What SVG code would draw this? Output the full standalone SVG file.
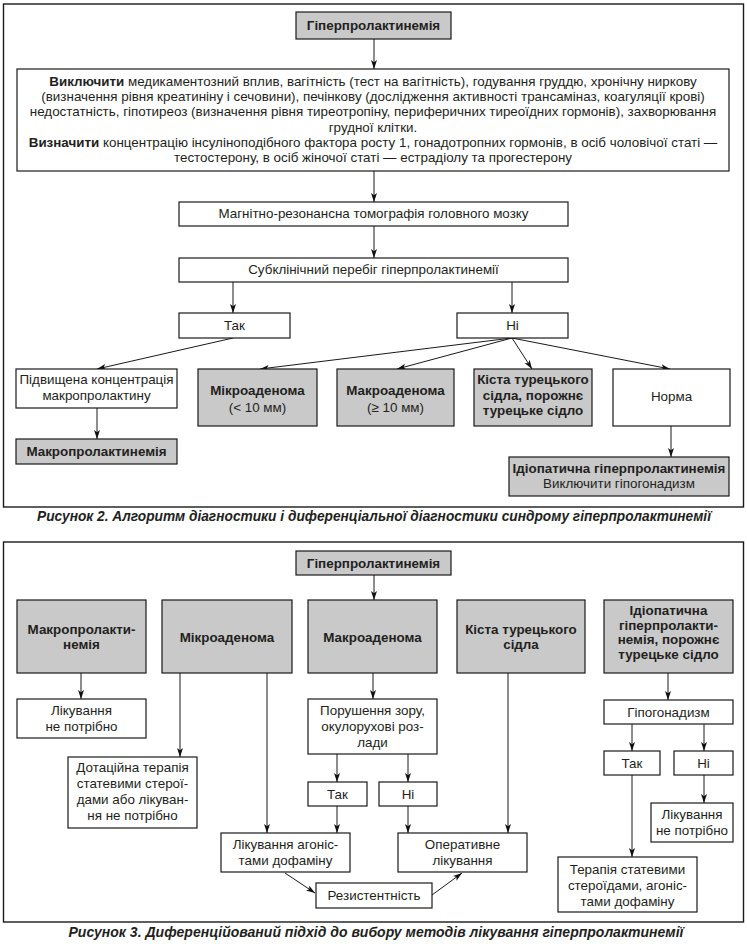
<svg xmlns="http://www.w3.org/2000/svg" width="747" height="944" viewBox="0 0 747 944">
<defs>
<marker id="ah" markerUnits="userSpaceOnUse" markerWidth="10" markerHeight="7" refX="9" refY="3" orient="auto"><path d="M0,0 L9,3 L0,6 L2.2,3 Z" fill="#111"/></marker>
</defs>
<style>
.frame{fill:none;stroke:#1a1a1a;stroke-width:1.4}
.box{fill:#fff;stroke:#1a1a1a;stroke-width:1.2}
.g{fill:#c9c9c9;stroke:#1a1a1a;stroke-width:1.2}
text{font-family:"Liberation Sans",Arial,sans-serif;font-size:13.4px;fill:#231f20;text-anchor:middle}
.b{font-weight:bold}
.cap{font-weight:bold;font-style:italic;font-size:14px}
.c line{stroke:#1a1a1a;stroke-width:1;fill:none;marker-end:url(#ah)}
</style>
<rect class="frame" x="3.5" y="4" width="740" height="503"/>
<rect class="frame" x="3.5" y="542" width="740" height="380"/>

<g id="connectors1" class="c">
<line x1="374" y1="39" x2="374" y2="69"/>
<line x1="374" y1="171" x2="374" y2="202"/>
<line x1="374" y1="226" x2="374" y2="258"/>
<line x1="233" y1="282" x2="233" y2="313"/>
<line x1="512" y1="282" x2="512" y2="313"/>
<line x1="233" y1="338" x2="97" y2="369"/>
<line x1="512" y1="338" x2="260" y2="369"/>
<line x1="512" y1="338" x2="397" y2="369"/>
<line x1="512" y1="338" x2="532" y2="369"/>
<line x1="512" y1="338" x2="670" y2="369"/>
<line x1="97" y1="408" x2="97" y2="439"/>
<line x1="671" y1="426" x2="671" y2="457"/>
</g>

<g id="f1-hyper"><rect class="g" x="296" y="12" width="155" height="27"/><text class="b" x="373.5" y="30">Гіперпролактинемія</text></g>
<g id="f1-exclude"><rect class="box" x="17" y="69" width="712" height="102"/>
<text x="373" y="86"><tspan class="b">Виключити</tspan> медикаментозний вплив, вагітність (тест на вагітність), годування груддю, хронічну ниркову</text>
<text x="373" y="101.2">(визначення рівня креатиніну і сечовини), печінкову (дослідження активності трансаміназ, коагуляції крові)</text>
<text x="373" y="116.4">недостатність, гіпотиреоз (визначення рівня тиреотропіну, периферичних тиреоїдних гормонів), захворювання</text>
<text x="373" y="131.6">грудної клітки.</text>
<text x="373" y="146.8"><tspan class="b">Визначити</tspan> концентрацію інсуліноподібного фактора росту 1, гонадотропних гормонів, в осіб чоловічої статі —</text>
<text x="373" y="162">тестостерону, в осіб жіночої статі — естрадіолу та прогестерону</text>
</g>
<g id="f1-mri"><rect class="box" x="179" y="202" width="389" height="24"/><text x="373.5" y="218">Магнітно-резонансна томографія головного мозку</text></g>
<g id="f1-subclin"><rect class="box" x="179" y="258" width="389" height="24"/><text x="373.5" y="274">Субклінічний перебіг гіперпролактинемії</text></g>
<g id="f1-yes"><rect class="box" x="179" y="313" width="111" height="25"/><text x="234.5" y="330">Так</text></g>
<g id="f1-no"><rect class="box" x="457" y="313" width="111" height="25"/><text x="512.5" y="330">Ні</text></g>
<g id="f1-elevated"><rect class="box" x="16" y="369" width="161" height="39"/><text x="96.5" y="384">Підвищена концентрація</text><text x="96.5" y="400">макропролактину</text></g>
<g id="f1-micro"><rect class="g" x="198" y="369" width="119" height="57"/><text class="b" x="257.5" y="395">Мікроаденома</text><text x="257.5" y="412">(&lt; 10 мм)</text></g>
<g id="f1-macro"><rect class="g" x="337" y="369" width="117" height="57"/><text class="b" x="395.5" y="395">Макроаденома</text><text x="395.5" y="412">(≥ 10 мм)</text></g>
<g id="f1-cyst"><rect class="g" x="474" y="369" width="118" height="57"/><text class="b" x="533" y="384">Кіста турецького</text><text class="b" x="533" y="399.5">сідла, порожнє</text><text class="b" x="533" y="415">турецьке сідло</text></g>
<g id="f1-norm"><rect class="box" x="613" y="369" width="117" height="57"/><text x="671.5" y="401">Норма</text></g>
<g id="f1-macroprl"><rect class="g" x="16" y="439" width="161" height="25"/><text class="b" x="96.5" y="456">Макропролактинемія</text></g>
<g id="f1-idio"><rect class="g" x="509" y="457" width="220" height="39"/><text class="b" x="619" y="472.5">Ідіопатична гіперпролактинемія</text><text x="619" y="488">Виключити гіпогонадизм</text></g>
<text class="cap" x="374" y="521" textLength="674" lengthAdjust="spacingAndGlyphs">Рисунок 2. Алгоритм діагностики і диференціальної діагностики синдрому гіперпролактинемії</text>

<g id="connectors2" class="c">
<line x1="374" y1="575" x2="374" y2="600"/>
<line x1="81" y1="673" x2="81" y2="699"/>
<line x1="180" y1="673" x2="180" y2="757"/>
<line x1="267" y1="673" x2="267" y2="833"/>
<line x1="373" y1="673" x2="373" y2="699"/>
<line x1="337" y1="754" x2="337" y2="782"/>
<line x1="408" y1="754" x2="408" y2="782"/>
<line x1="337" y1="806" x2="337" y2="833"/>
<line x1="408" y1="806" x2="408" y2="833"/>
<line x1="508" y1="673" x2="508" y2="833"/>
<line x1="668" y1="673" x2="668" y2="700"/>
<line x1="632" y1="724" x2="632" y2="751"/>
<line x1="704" y1="724" x2="704" y2="751"/>
<line x1="632" y1="775" x2="632" y2="857"/>
<line x1="704" y1="775" x2="704" y2="803"/>
<line x1="285" y1="873" x2="315" y2="893"/>
<line x1="432" y1="895" x2="462" y2="873"/>
</g>

<g id="f2-hyper"><rect class="g" x="296" y="551" width="155" height="24"/><text class="b" x="373.5" y="567.5">Гіперпролактинемія</text></g>
<g id="f2-macroprl"><rect class="g" x="17" y="600" width="129" height="73"/><text class="b" x="81.5" y="634">Макропролакти-</text><text class="b" x="81.5" y="649">немія</text></g>
<g id="f2-micro"><rect class="g" x="162" y="600" width="130" height="73"/><text class="b" x="227" y="641.5">Мікроаденома</text></g>
<g id="f2-macro"><rect class="g" x="308" y="600" width="129" height="73"/><text class="b" x="372.5" y="641.5">Макроаденома</text></g>
<g id="f2-cyst"><rect class="g" x="457" y="600" width="128" height="73"/><text class="b" x="521" y="634">Кіста турецького</text><text class="b" x="521" y="649">сідла</text></g>
<g id="f2-idio"><rect class="g" x="604" y="600" width="129" height="73"/><text class="b" x="668.5" y="615">Ідіопатична</text><text class="b" x="668.5" y="629.7">гіперпролакти-</text><text class="b" x="668.5" y="644.4">немія, порожнє</text><text class="b" x="668.5" y="659">турецьке сідло</text></g>
<g id="f2-notreq1"><rect class="box" x="17" y="699" width="129" height="39"/><text x="81.5" y="715">Лікування</text><text x="81.5" y="731">не потрібно</text></g>
<g id="f2-supp"><rect class="box" x="68" y="757" width="129" height="71"/><text x="132.5" y="772">Дотаційна терапія</text><text x="132.5" y="788">статевими стерої-</text><text x="132.5" y="804">дами або лікуван-</text><text x="132.5" y="820">ня не потрібно</text></g>
<g id="f2-vision"><rect class="box" x="308" y="699" width="129" height="55"/><text x="372.5" y="715">Порушення зору,</text><text x="372.5" y="731">окулорухові роз-</text><text x="372.5" y="746.5">лади</text></g>
<g id="f2-yes1"><rect class="box" x="308" y="782" width="59" height="24"/><text x="337.5" y="799">Так</text></g>
<g id="f2-no1"><rect class="box" x="379" y="782" width="58" height="24"/><text x="408" y="799">Ні</text></g>
<g id="f2-agon"><rect class="box" x="221" y="833" width="129" height="39"/><text x="285.5" y="849">Лікування агоніс-</text><text x="285.5" y="865">тами дофаміну</text></g>
<g id="f2-surg"><rect class="box" x="398" y="833" width="129" height="39"/><text x="462.5" y="849">Оперативне</text><text x="462.5" y="865">лікування</text></g>
<g id="f2-resist"><rect class="box" x="316" y="883" width="116" height="25"/><text x="374" y="900">Резистентність</text></g>
<g id="f2-hypog"><rect class="box" x="604" y="700" width="129" height="24"/><text x="668.5" y="716.5">Гіпогонадизм</text></g>
<g id="f2-yes2"><rect class="box" x="604" y="751" width="56" height="24"/><text x="632" y="767.5">Так</text></g>
<g id="f2-no2"><rect class="box" x="674" y="751" width="59" height="24"/><text x="703.5" y="767.5">Ні</text></g>
<g id="f2-notreq2"><rect class="box" x="651" y="803" width="82" height="39"/><text x="692" y="818.5">Лікування</text><text x="692" y="834.5">не потрібно</text></g>
<g id="f2-therapy"><rect class="box" x="558" y="857" width="139" height="55"/><text x="627.5" y="873.5">Терапія статевими</text><text x="627.5" y="889.5">стероїдами, агоніс-</text><text x="627.5" y="905.5">тами дофаміну</text></g>
<text class="cap" x="376" y="937" textLength="615" lengthAdjust="spacingAndGlyphs">Рисунок 3. Диференційований підхід до вибору методів лікування гіперпролактинемії</text>
</svg>
